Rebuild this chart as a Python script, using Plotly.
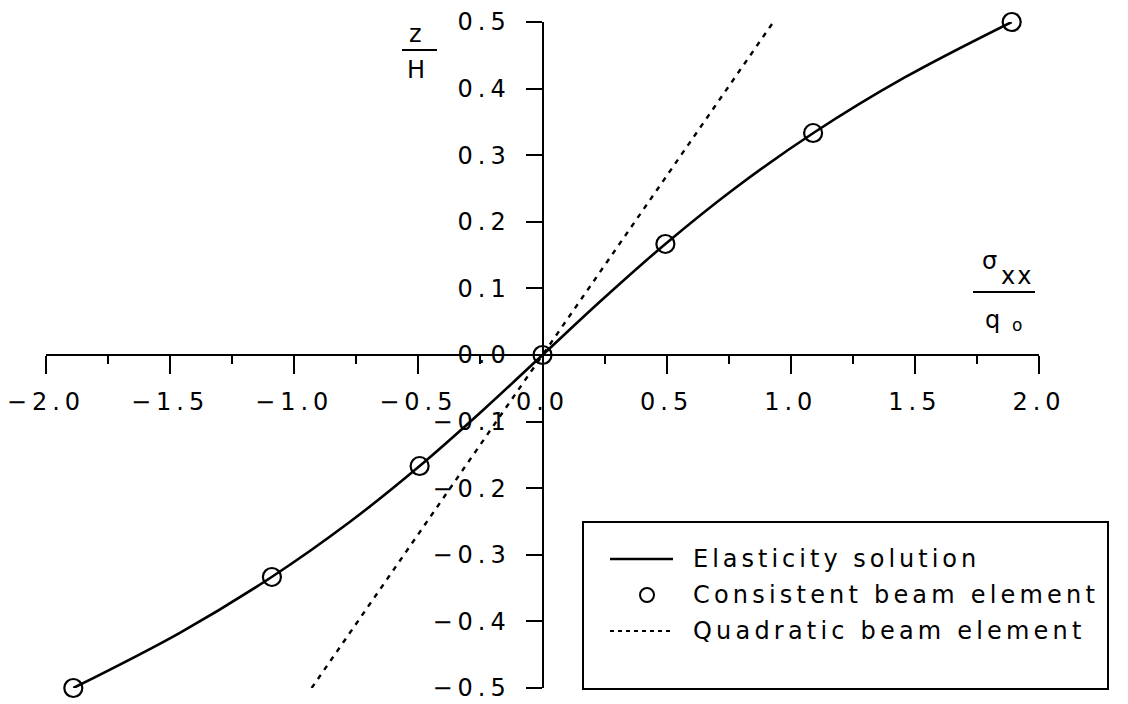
import plotly.graph_objects as go

# ---------------- data ----------------
# Elasticity solution (sigma_xx/q0 vs z/H)
elast_z = [-0.5, -0.4167, -0.3333, -0.25, -0.1667, -0.0833, 0.0,
           0.0833, 0.1667, 0.25, 0.3333, 0.4167, 0.5]
elast_s = [-1.89, -1.459, -1.091, -0.774, -0.495, -0.241, 0.0,
           0.241, 0.495, 0.774, 1.091, 1.459, 1.89]
# Consistent beam element (circles)
cons_z = [-0.5, -0.3333, -0.1667, 0.0, 0.1667, 0.3333, 0.5]
cons_s = [-1.89, -1.09, -0.495, 0.0, 0.495, 1.09, 1.89]
# Quadratic beam element (dashed straight line)
quad_z = [-0.5, 0.0, 0.5]
quad_s = [-0.93, 0.0, 0.93]

x_ticks = [-2.0, -1.5, -1.0, -0.5, 0.0, 0.5, 1.0, 1.5, 2.0]
x_minor = [-1.75, -1.25, -0.75, -0.25, 0.25, 0.75, 1.25, 1.75]
y_ticks = [-0.5, -0.4, -0.3, -0.2, -0.1, 0.0, 0.1, 0.2, 0.3, 0.4, 0.5]

legend_names = ["Elasticity solution", "Consistent beam element",
                "Quadratic beam element"]

# ---------------- layout geometry ----------------
W, H = 1128, 704
ML, MR, MT, MB = 46, 89, 22, 16
PW, PH = W - ML - MR, H - MT - MB
FONT = "DejaVu Sans"


def fx(px):
    return (px - ML) / PW


def fy(py):
    return (H - MB - py) / PH


def spaced(t, sp):
    return f"<span style='letter-spacing:{sp}px'>{t}</span>"


def fmt(v):
    s = f"{round(v, 2):.1f}"
    if s == "-0.0":
        s = "0.0"
    return spaced(s.replace("-", "\u2212"), 5)


fig = go.Figure()

fig.add_trace(go.Scatter(x=elast_s, y=elast_z, mode="lines",
                         name=legend_names[0],
                         line=dict(color="black", width=2.6, shape="spline",
                                   smoothing=1.0),
                         showlegend=False, cliponaxis=False))
fig.add_trace(go.Scatter(x=quad_s, y=quad_z, mode="lines",
                         name=legend_names[2],
                         line=dict(color="black", width=2.4, dash="5px,6px"),
                         showlegend=False, cliponaxis=False))
fig.add_trace(go.Scatter(x=cons_s, y=cons_z, mode="markers",
                         name=legend_names[1],
                         marker=dict(symbol="circle-open", size=18,
                                     color="black", line=dict(width=2.2)),
                         showlegend=False, cliponaxis=False))

axis_common = dict(showgrid=False, zeroline=False, showline=True,
                   linecolor="black", linewidth=2, ticks="outside",
                   tickcolor="black", tickwidth=2,
                   tickfont=dict(family=FONT, size=24, color="black"),
                   anchor="free", position=0.5, tickmode="array")

fig.update_layout(
    width=W, height=H,
    margin=dict(l=ML, r=MR, t=MT, b=MB, autoexpand=False),
    paper_bgcolor="white", plot_bgcolor="white",
    showlegend=False,
    xaxis=dict(range=[-2.0, 2.0], tickvals=x_ticks,
               ticktext=[fmt(v) for v in x_ticks], ticklen=18,
               ticklabelstandoff=7,
               minor=dict(tickvals=x_minor, ticks="outside", ticklen=8,
                          tickwidth=2, tickcolor="black", showgrid=False),
               **axis_common),
    yaxis=dict(range=[-0.5, 0.5], tickvals=y_ticks,
               ticktext=[fmt(v) for v in y_ticks], ticklen=16,
               ticklabelstandoff=10, **axis_common),
)

shapes = []
annots = []


def text(px, py, t, size=24, xanchor="center", sp=0):
    annots.append(dict(x=fx(px), y=fy(py), xref="paper", yref="paper",
                       text=spaced(t, sp) if sp else t, showarrow=False,
                       xanchor=xanchor, yanchor="middle",
                       font=dict(family=FONT, size=size, color="black")))


def hline(x0, x1, y, dash="solid", width=2):
    shapes.append(dict(type="line", xref="paper", yref="paper",
                       x0=fx(x0), x1=fx(x1), y0=fy(y), y1=fy(y),
                       line=dict(color="black", width=width, dash=dash)))


# y-axis title z/H
text(415, 34, "z")
hline(402, 437, 50)
text(416, 70, "H")

# x-axis title sigma_xx / q_o
text(989, 261, "\u03c3")
text(1017, 276, "xx", sp=2)
hline(973, 1035, 292)
text(992, 320, "q")
text(1017, 325, "o", size=17)

# legend box
shapes.append(dict(type="rect", xref="paper", yref="paper",
                   x0=fx(583), x1=fx(1108), y0=fy(522), y1=fy(689),
                   line=dict(color="black", width=2), fillcolor="white",
                   layer="above"))
rows = [559, 595, 631]
hline(610, 673, rows[0], width=2.4)
shapes.append(dict(type="circle", xref="paper", yref="paper",
                   xsizemode="pixel", ysizemode="pixel",
                   xanchor=fx(647), yanchor=fy(rows[1]),
                   x0=-7, x1=7, y0=-7, y1=7,
                   line=dict(color="black", width=2)))
hline(610, 673, rows[2], dash="4px,4px", width=2)
for r, name, sp in zip(rows, legend_names, [4, 4.2, 4.2]):
    text(691, r, name, xanchor="left", sp=sp)

fig.update_layout(shapes=shapes, annotations=annots)

fig.write_html("out.html")
